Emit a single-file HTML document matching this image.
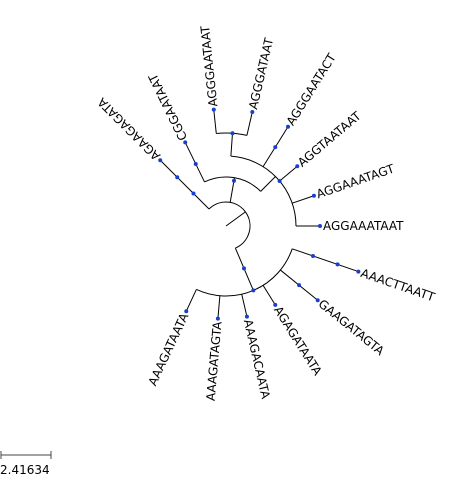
<!DOCTYPE html>
<html><head><meta charset="utf-8"><style>
html,body{margin:0;padding:0;background:#fff;}
svg{display:block;font-family:"DejaVu Sans","Liberation Sans",sans-serif;}
</style></head><body>
<svg id="tree" width="452" height="502" viewBox="0 0 452 502" xmlns="http://www.w3.org/2000/svg">
<g id="g"></g>
<g>
<line x1="1" y1="455" x2="51" y2="455" stroke="#444" stroke-width="1"/>
<line x1="1" y1="451" x2="1" y2="459" stroke="#444"/>
<line x1="51" y1="451" x2="51" y2="459" stroke="#444"/>
<text x="0" y="474" font-size="12" fill="#000">2.41634</text>
</g>
</svg>
<script>
const leafNames = ["AGGAAATAAT","AGGAAATAGT","AGGTAATAAT","AGGGAATACT","AGGGATAAT","AGGGAATAAT","CGGAATAAT","AGAAGAGATA","AAACTTAATT","GAAGATAGTA","AGAGATAATA","AAAGACAATA","AAAGATAGTA","AAAGATAATA"];
const leafAngles = [0,-19,-40,-58,-77,-96,-116,-135,19,39,58,77,95,115];
const leafStart = [70,70,70,70,93,93,49,24,70,70,70,70,70,70];
const leafEnd = [94,93,93,117,117,117,93,93,140,118,93,93,93,94];
const leafDots = [[94],[93],[70,93],[93,117],[117],[117],[69,93],[46,69,93],[92,118,140],[94,118],[93],[93],[93],[94]];
const innerAngles = [-86,-45,-80,67,-36];
const innerStart = [70,49,24,24,0];
const innerEnd = [93,70,49,70,24];
const innerDots = [[93],[],[46],[46,70],[]];
const arcRadius = [24,49,70,70,93];
const arcFrom = [-135,-116,-86,19,-96];
const arcTo = [67,-45,0,115,-77];

const cx=226, cy=226;
const NS="http://www.w3.org/2000/svg";
const g=document.getElementById('g');
function pt(a,r){const t=a*Math.PI/180;return [cx+r*Math.cos(t), cy+r*Math.sin(t)];}
function mk(tag,attrs){const e=document.createElementNS(NS,tag);for(const k in attrs)e.setAttribute(k,attrs[k]);g.appendChild(e);return e;}

arcRadius.forEach((r,i)=>{
  const p0=pt(arcFrom[i],r), p1=pt(arcTo[i],r);
  const large=(arcTo[i]-arcFrom[i])>180?1:0;
  const e=mk('path',{d:`M${p0[0]},${p0[1]} A${r},${r} 0 ${large} 1 ${p1[0]},${p1[1]}`,fill:'none',stroke:'#000','stroke-width':1});
  
  
});
function branch(a,r0,r1,dots,name){
  const p0=pt(a,r0),p1=pt(a,r1);
  const e=mk('line',{x1:p0[0],y1:p0[1],x2:p1[0],y2:p1[1],stroke:'#000','stroke-width':1});
  
  
  dots.forEach(r=>{const p=pt(a,r);
    const d=mk('circle',{cx:p[0],cy:p[1],r:2,fill:'#1a3fd0'});
    
    
  });
}
innerAngles.forEach((a,i)=>branch(a,innerStart[i],innerEnd[i],innerDots[i],'internal-branch'));
leafNames.forEach((n,i)=>{
  const a=leafAngles[i];
  branch(a,leafStart[i],leafEnd[i],leafDots[i],'leaf-branch');
  const p=pt(a,leafEnd[i]+3);
  const flip=a>90;
  const t=mk('text',{x:p[0],y:p[1],'font-size':12,fill:'#000','dominant-baseline':'central',
    'text-anchor':flip?'end':'start',transform:`rotate(${flip?a-180:a} ${p[0]} ${p[1]})`});
  t.textContent=n;
  
  
});
</script>
</body></html>
